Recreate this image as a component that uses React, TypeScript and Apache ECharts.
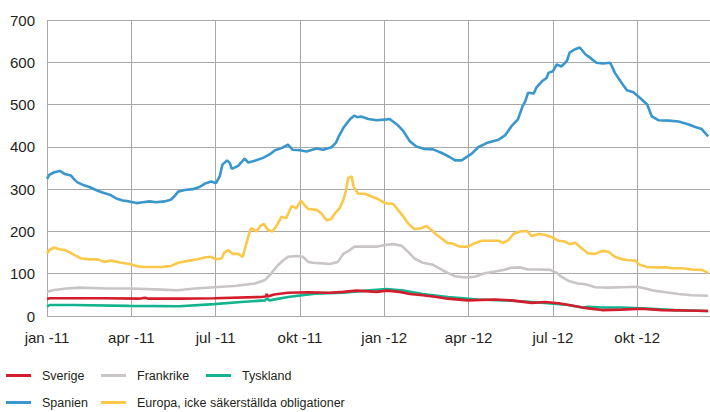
import React, { useEffect, useRef } from "react";
import * as echarts from "echarts";

// x values are days counted from 1 January 2011
const xTickLabels = ["jan -11", "apr -11", "jul -11", "okt -11", "jan -12", "apr -12", "jul -12", "okt -12"];
const quarterDays = 91.3125;
const xMaxDay = 718;

const seriesNames = ["Sverige", "Frankrike", "Tyskland", "Spanien", "Europa, icke säkerställda obligationer"];

const spanien: [number, number][] = [
  [0,324],[2.5,334],[8,340],[14,343],[19,336],[26,332],[30,322],[33,316],[39,310],[46,305],[53,298],[60,292],[68,287],[75,278],[82,273],[89,271],[97,267],[104,269],[111,271],[118,269],[127,271],[134,275],[138,283],[142,294],[149,298],[158,300],[165,305],[172,314],[178,318],[183,314],[187,330],[190,358],[195,368],[198,362],[200,348],[207,355],[214,372],[218,363],[225,367],[234,374],[241,382],[247,392],[254,397],[261,405],[266,393],[274,392],[281,389],[292,396],[299,393],[308,399],[313,410],[316,425],[321,445],[328,465],[333,474],[336,470],[340,472],[348,466],[357,463],[368,465],[371,466],[379,453],[386,437],[393,413],[400,401],[409,395],[418,394],[427,386],[436,376],[442,368],[449,368],[453,374],[460,384],[467,399],[476,409],[489,417],[496,427],[503,449],[510,465],[515,496],[518,508],[521,528],[527,526],[530,540],[536,555],[541,563],[543,575],[548,579],[552,595],[557,590],[563,603],[566,623],[572,631],[577,635],[583,619],[588,611],[595,599],[602,597],[610,599],[615,575],[622,552],[628,534],[635,529],[642,516],[650,500],[655,472],[662,463],[673,462],[684,460],[695,453],[702,447],[709,442],[716,425]
];

const europa: [number, number][] = [
  [0,148],[2.5,156],[8,162],[13,158],[19,156],[24,151],[30,144],[37,136],[46,134],[55,134],[62,128],[69,131],[78,127],[89,123],[97,118],[104,116],[115,116],[125,116],[135,119],[142,126],[145,127],[154,131],[163,134],[172,139],[178,140],[183,134],[189,136],[192,150],[196,156],[201,147],[207,147],[212,140],[215,164],[218,188],[221,208],[227,200],[231,213],[235,218],[239,204],[244,200],[248,211],[254,235],[259,231],[265,260],[270,255],[275,273],[279,262],[283,253],[292,251],[297,243],[303,226],[308,230],[312,243],[317,255],[321,275],[324,298],[326,326],[330,330],[332,306],[337,289],[344,289],[351,283],[359,276],[366,267],[375,265],[380,251],[386,235],[391,219],[398,205],[406,208],[411,213],[416,204],[422,192],[427,184],[434,172],[438,172],[447,164],[456,164],[463,172],[471,178],[480,178],[489,178],[494,173],[500,180],[505,194],[512,200],[520,201],[525,189],[532,194],[539,192],[547,186],[554,178],[561,176],[566,170],[572,173],[579,160],[586,148],[594,147],[601,154],[608,152],[615,140],[623,134],[630,132],[637,131],[642,121],[650,116],[659,115],[670,115],[677,113],[688,113],[698,110],[709,109],[716,102]
];

const frankrike: [number, number][] = [
  [0,57],[6,61],[21,65],[35,67],[64,65],[89,65],[118,63],[141,61],[160,65],[181,68],[203,71],[225,77],[236,85],[243,101],[250,120],[256,132],[261,140],[270,142],[277,140],[283,128],[288,126],[295,125],[306,123],[315,128],[321,147],[328,156],[333,164],[346,164],[357,164],[366,168],[375,170],[384,166],[391,152],[398,136],[407,126],[418,121],[427,110],[434,102],[442,94],[453,91],[463,93],[474,101],[485,105],[494,109],[503,114],[512,115],[521,110],[534,110],[545,109],[552,102],[557,93],[565,83],[575,77],[583,75],[594,68],[608,67],[623,68],[639,69],[648,65],[657,60],[670,56],[684,52],[698,49],[716,48]
];

const sverige: [number, number][] = [
  [0,40],[3,42],[60,42],[100,41],[106,43],[110,41],[145,41],[181,42],[232,45],[237,46],[238,52],[239,46],[246,51],[261,55],[283,56],[306,55],[321,57],[335,60],[357,57],[368,60],[382,57],[393,52],[407,49],[422,45],[434,41],[456,37],[485,39],[503,37],[525,31],[539,33],[554,30],[565,26],[580,20],[586,18],[601,14],[622,15],[644,17],[666,14],[691,13],[716,12]
];

const tyskland: [number, number][] = [
  [0,22],[3,26],[28,26],[89,24],[143,23],[181,28],[210,33],[236,37],[238,41],[241,37],[261,45],[290,53],[320,55],[346,60],[368,64],[386,60],[407,52],[434,45],[467,39],[503,36],[539,31],[565,26],[580,20],[586,22],[601,20],[622,20],[644,18],[680,14],[716,12]
];

const colors: Record<string, string> = {
  Sverige: "#d41c2c",
  Frankrike: "#c9c5c5",
  Tyskland: "#12b38e",
  Spanien: "#3a97cc",
  "Europa, icke säkerställda obligationer": "#fcc84a",
};

export default function App() {
  const ref = useRef<HTMLDivElement>(null);
  useEffect(() => {
    if (!ref.current) return;
    const chart = echarts.init(ref.current, null, { renderer: "svg" });
    const gridColor = "#a8a8a8";
    const textColor = "#231f20";
    const mkLegend = (name: string, left: number, top: number) => ({
      data: [name],
      left,
      top,
      padding: 0,
      icon: "rect",
      itemWidth: 25,
      itemHeight: 3,
      selectedMode: false,
      textStyle: {
        fontFamily: "'Liberation Sans Narrow', 'Liberation Sans', sans-serif",
        fontSize: 12.5,
        color: textColor,
        padding: [0, 0, 0, 6],
      },
    });
    const mkSeries = (name: string, data: [number, number][]) => ({
      name,
      type: "line",
      data,
      showSymbol: false,
      symbol: "none",
      lineStyle: { width: 2.6, color: colors[name] },
      itemStyle: { color: colors[name] },
    });
    chart.setOption({
      animation: false,
      grid: { left: 47, right: 0, top: 20, bottom: 96 },
      xAxis: {
        type: "value",
        min: 0,
        max: xMaxDay,
        interval: quarterDays,
        axisLine: { show: false },
        axisTick: { show: false },
        splitLine: { show: true, showMaxLine: false, lineStyle: { color: gridColor, width: 1 } },
        axisLabel: {
          margin: 14,
          fontFamily: "'Liberation Sans', Arial, sans-serif",
          fontSize: 15,
          color: textColor,
          showMaxLabel: false,
          formatter: (v: number) => {
            const i = Math.round(v / quarterDays);
            if (Math.abs(v - i * quarterDays) > 0.5) return "";
            return xTickLabels[i] ?? "";
          },
        },
      },
      yAxis: {
        type: "value",
        min: 0,
        max: 700,
        interval: 100,
        axisLine: { show: false },
        axisTick: { show: false },
        splitLine: { show: true, lineStyle: { color: gridColor, width: 1 } },
        axisLabel: {
          margin: 12,
          fontFamily: "'Liberation Sans', Arial, sans-serif",
          fontSize: 15,
          color: textColor,
        },
      },
      legend: [
        mkLegend(seriesNames[0], 6, 369),
        mkLegend(seriesNames[1], 101, 369),
        mkLegend(seriesNames[2], 206, 369),
        mkLegend(seriesNames[3], 6, 396),
        mkLegend(seriesNames[4], 101, 396),
      ],
      series: [
        mkSeries("Frankrike", frankrike),
        mkSeries("Tyskland", tyskland),
        mkSeries("Sverige", sverige),
        mkSeries("Europa, icke säkerställda obligationer", europa),
        mkSeries("Spanien", spanien),
      ],
    });
    return () => chart.dispose();
  }, []);
  return (
    <div
      ref={ref}
      style={{ position: "fixed", left: 0, top: 0, width: 710, height: 412, background: "#fff" }}
    />
  );
}
